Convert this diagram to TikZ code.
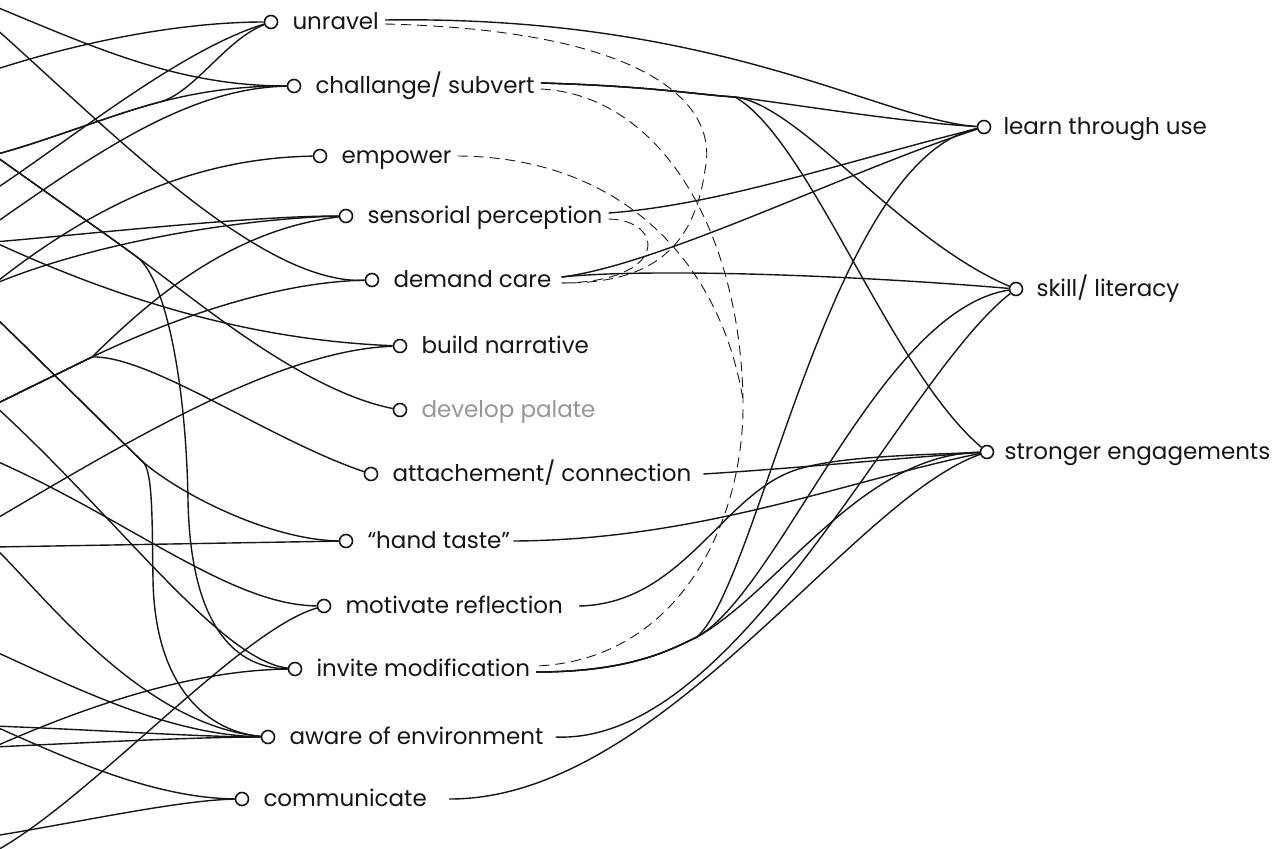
\documentclass[tikz,border=0pt]{standalone}
\usepackage{fontspec}
\setmainfont{Poppins}
\usetikzlibrary{positioning,backgrounds}
\definecolor{inkdark}{RGB}{22,22,22}
\definecolor{palegrey}{RGB}{150,150,150}
\tikzset{
  hub/.style={circle,draw=inkdark,line width=1.6pt,fill=white,minimum size=13pt,inner sep=0pt},
  tag/.style={anchor=west,inner xsep=6pt,inner ysep=0pt,text height=17pt,text depth=2.4pt,
              font=\fontsize{23}{27}\selectfont,text=inkdark},
  fadedtag/.style={tag,text=palegrey},
  tie/.style={draw=inkdark,line width=1.4pt},
  hint/.style={draw=inkdark,line width=.9pt,dash pattern=on 10pt off 6pt},
}
\begin{document}
\begin{tikzpicture}[x=1pt,y=-1pt]
  \useasboundingbox (0,0) rectangle (1283,849);
  % middle column
  \node[hub] (unravel) at (271,22) {};
  \node[tag,right=8pt of unravel] (unravel-t) {unravel};
  \node[hub] (challange) at (294,86) {};
  \node[tag,right=8pt of challange] (challange-t) {challange/ subvert};
  \node[hub] (empower) at (320,156) {};
  \node[tag,right=8pt of empower] (empower-t) {empower};
  \node[hub] (sensorial) at (346,216) {};
  \node[tag,right=8pt of sensorial] (sensorial-t) {sensorial perception};
  \node[hub] (demand) at (372,280) {};
  \node[tag,right=8pt of demand] (demand-t) {demand care};
  \node[hub] (build) at (400,346) {};
  \node[tag,right=8pt of build] (build-t) {build narrative};
  \node[hub] (palate) at (400,410) {};
  \node[fadedtag,right=8pt of palate] (palate-t) {develop palate};
  \node[hub] (attach) at (371,474) {};
  \node[tag,right=8pt of attach] (attach-t) {attachement/ connection};
  \node[hub] (hand) at (346,541) {};
  \node[tag,right=8pt of hand] (hand-t) {“hand taste”};
  \node[hub] (motivate) at (324,606) {};
  \node[tag,right=8pt of motivate] (motivate-t) {motivate reflection};
  \node[hub] (invite) at (295,669) {};
  \node[tag,right=8pt of invite] (invite-t) {invite modification};
  \node[hub] (aware) at (268,737) {};
  \node[tag,right=8pt of aware] (aware-t) {aware of environment};
  \node[hub] (communicate) at (242,799) {};
  \node[tag,right=8pt of communicate] (communicate-t) {communicate};
  % right column
  \node[hub] (learn) at (984,127) {};
  \node[tag,right=6pt of learn] (learn-t) {learn through use};
  \node[hub] (skill) at (1016,289) {};
  \node[tag,right=7pt of skill] (skill-t) {skill/ literacy};
  \node[hub] (stronger) at (987,452) {};
  \node[tag,right=4pt of stronger] (stronger-t) {stronger engagements};
  % left column, cut by the page edge
  \coordinate (lA) at (-6,6);    \coordinate (lB) at (-6,27);
  \coordinate (lC) at (-6,70);   \coordinate (lD) at (-6,155);
  \coordinate (lE) at (-6,190);  \coordinate (lF) at (-6,224);
  \coordinate (lG) at (-6,242);  \coordinate (lH) at (-6,284);
  \coordinate (lJ) at (-6,316);  \coordinate (lI) at (-6,405);
  \coordinate (lK) at (-6,460);  \coordinate (lR) at (-6,520);
  \coordinate (lL) at (-6,547);  \coordinate (lM) at (-6,651);
  \coordinate (lN) at (-6,726);  \coordinate (lO) at (-6,747);
  \coordinate (lP) at (-6,836);  \coordinate (lQ) at (-6,852);
  % junctions
  \coordinate (jD) at (160,102); \coordinate (kD) at (137,257);
  \coordinate (fork) at (92,357); \coordinate (jJ) at (143,462);
  \coordinate (csplit) at (735,97); \coordinate (isplit) at (697,637);
  \coordinate (dmerge) at (743,400);
  \begin{scope}[on background layer]
    \clip (0,0) rectangle (1283,849);
    \draw[tie] (lA) .. controls (100,50) and (180,86) .. (challange);
    \draw[tie] (lB) .. controls (110,130) and (260,285) .. (demand);
    \draw[tie] (lC) .. controls (80,42) and (180,22) .. (unravel);
    \draw[tie] (lD) .. controls (50,140) and (110,115) .. (jD) .. controls (210,89) and (250,86) .. (challange);
    \draw[tie] (lD) .. controls (50,140) and (110,115) .. (jD) .. controls (195,92) and (225,40) .. (unravel);
    \draw[tie] (lD) .. controls (50,195) and (110,237) .. (kD) .. controls (190,295) and (300,390) .. (palate);
    \draw[tie] (lD) .. controls (50,195) and (110,237) .. (kD) .. controls (165,278) and (186,380) .. (188,500)
      .. controls (190,610) and (225,668) .. (invite);
    \draw[tie] (lE) .. controls (70,140) and (180,50) .. (unravel);
    \draw[tie] (lF) .. controls (100,150) and (190,88) .. (challange);
    \draw[tie] (lG) .. controls (100,233) and (250,216) .. (sensorial);
    \draw[tie] (lG) .. controls (120,300) and (250,340) .. (build);
    \draw[tie] (lH) .. controls (100,200) and (200,158) .. (empower);
    \draw[tie] (lH) .. controls (100,240) and (250,218) .. (sensorial);
    \draw[tie] (lI) -- (fork) .. controls (150,300) and (230,230) .. (sensorial);
    \draw[tie] (lI) -- (fork) .. controls (180,315) and (280,282) .. (demand);
    \draw[tie] (lI) -- (fork) .. controls (150,355) and (270,440) .. (attach);
    \draw[tie] (lI) .. controls (120,520) and (220,660) .. (invite);
    \draw[tie] (lJ) .. controls (60,380) and (120,440) .. (jJ) .. controls (180,494) and (270,540) .. (hand);
    \draw[tie] (lJ) .. controls (60,380) and (120,440) .. (jJ) .. controls (153,472) and (152,520) .. (153,580)
      .. controls (155,690) and (210,732) .. (aware);
    \draw[tie] (lK) .. controls (130,520) and (230,605) .. (motivate);
    \draw[tie] (lR) .. controls (130,440) and (280,350) .. (build);
    \draw[tie] (lL) -- (hand);
    \draw[tie] (lL) .. controls (40,590) and (140,725) .. (aware);
    \draw[tie] (lM) .. controls (80,690) and (170,735) .. (aware);
    \draw[tie] (lN) .. controls (100,730) and (200,737) .. (aware);
    \draw[tie] (lN) .. controls (60,755) and (150,798) .. (communicate);
    \draw[tie] (lO) .. controls (100,742) and (200,737) .. (aware);
    \draw[tie] (lO) .. controls (100,700) and (200,670) .. (invite);
    \draw[tie] (lP) .. controls (80,822) and (180,800) .. (communicate);
    \draw[tie] (lQ) .. controls (90,800) and (240,630) .. (motivate);
    % towards the right column
    \draw[tie] ([yshift=2pt]unravel-t.east) .. controls (720,15) and (880,120) .. (learn);
    \draw[tie] ([yshift=3pt]challange-t.east) .. controls (650,86) and (700,95) .. (csplit)
      .. controls (800,105) and (900,122) .. (learn);
    \draw[tie] ([yshift=3pt]challange-t.east) .. controls (650,86) and (700,95) .. (csplit)
      .. controls (800,105) and (900,240) .. (skill);
    \draw[tie] ([yshift=3pt]challange-t.east) .. controls (650,86) and (700,95) .. (csplit)
      .. controls (810,140) and (890,370) .. (stronger);
    \draw[tie] ([yshift=3pt]sensorial-t.east) .. controls (720,205) and (850,160) .. (learn);
    \draw[tie] ([yshift=3pt,xshift=4pt]demand-t.east) .. controls (660,265) and (850,170) .. (learn);
    \draw[tie] ([yshift=3pt,xshift=4pt]demand-t.east) .. controls (650,268) and (850,275) .. (skill);
    \draw[tie] ([xshift=6pt]attach-t.east) .. controls (800,468) and (900,458) .. (stronger);
    \draw[tie] ([xshift=10pt]motivate-t.east) .. controls (680,604) and (720,500) .. (790,472)
      .. controls (830,456) and (920,455) .. (stronger);
    \draw[tie] ([xshift=-3pt]hand-t.east) .. controls (700,540) and (850,480) .. (stronger);
    \draw[tie] ([yshift=-3pt]invite-t.east) .. controls (630,672) and (670,650) .. (isplit)
      .. controls (760,580) and (830,160) .. (learn);
    \draw[tie] ([yshift=-3pt]invite-t.east) .. controls (630,672) and (670,650) .. (isplit)
      .. controls (780,590) and (880,310) .. (skill);
    \draw[tie] ([yshift=-3pt]invite-t.east) .. controls (630,672) and (670,650) .. (isplit)
      .. controls (780,590) and (860,455) .. (stronger);
    \draw[tie] ([xshift=6pt]aware-t.east) .. controls (740,745) and (900,380) .. (skill);
    \draw[tie] ([xshift=16pt]communicate-t.east) .. controls (660,800) and (850,500) .. (stronger);
    % dashed links
    \draw[hint] ([yshift=-2pt]unravel-t.east) .. controls (640,30) and (720,100) .. (705,170)
      .. controls (695,240) and (660,284) .. ([yshift=-3pt,xshift=4pt]demand-t.east);
    \draw[hint] ([yshift=-3pt]sensorial-t.east) .. controls (665,220) and (670,282) .. ([yshift=-3pt,xshift=4pt]demand-t.east);
    \draw[hint] ([yshift=-3pt]challange-t.east) .. controls (660,95) and (740,230) .. (dmerge)
      .. controls (745,520) and (680,660) .. ([yshift=3pt]invite-t.east);
    \draw[hint] (empower-t.east) .. controls (620,157) and (720,260) .. (dmerge);
  \end{scope}
\end{tikzpicture}
\end{document}
